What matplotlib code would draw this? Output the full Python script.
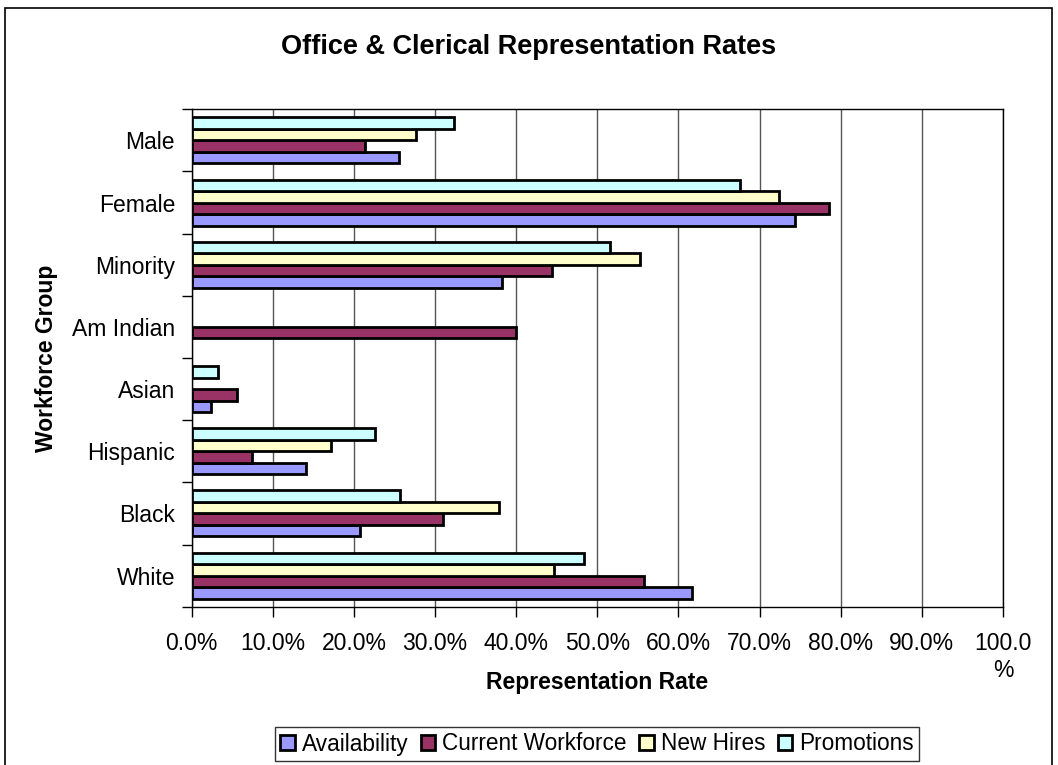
import matplotlib.pyplot as plt
import numpy as np
from matplotlib.patches import Rectangle
from matplotlib.ticker import FixedLocator

plt.rcParams['font.family'] = ['Liberation Sans', 'DejaVu Sans']

groups = ["White", "Black", "Hispanic", "Asian", "Am Indian", "Minority", "Female", "Male"]
availability = [61.7, 20.7, 14.1, 2.4, 0.0, 38.3, 74.4, 25.5]
current_wf = [55.7, 31.0, 7.4, 5.6, 40.0, 44.4, 78.5, 21.4]
new_hires = [44.7, 37.9, 17.2, 0.0, 0.0, 55.2, 72.4, 27.6]
promotions = [48.4, 25.7, 22.6, 3.2, 0.0, 51.6, 67.6, 32.3]

series = ["Availability", "Current Workforce", "New Hires", "Promotions"]
colors = ["#9999FF", "#993366", "#FFFFCC", "#CCFFFF"]
xticks = np.arange(0, 101, 10)
xlabels = ["0.0%", "10.0%", "20.0%", "30.0%", "40.0%", "50.0%", "60.0%",
           "70.0%", "80.0%", "90.0%", "100.0\n%"]

W, H = 1058, 765
fig = plt.figure(figsize=(W / 100, H / 100), dpi=100)
# outer chart border (bottom edge runs off the image)
fig.patches.append(Rectangle((5 / W, -0.01), 1047 / W, 1 - 8 / H + 0.01,
                             transform=fig.transFigure, fill=False,
                             edgecolor="black", lw=1.2))
ax = fig.add_axes([191.7 / W, 1 - 606.7 / H, (1003 - 191.7) / W, (606.7 - 109.3) / H])

y = np.arange(len(groups))
h = 0.185
for i, (vals, name, c) in enumerate(zip([availability, current_wf, new_hires, promotions], series, colors)):
    vals = np.array(vals)
    mask = vals > 0
    ax.barh(y[mask] + (i - 1.5) * h, vals[mask], height=h, color=c,
            edgecolor="black", linewidth=2.0, label=name, zorder=3)

ax.set_xlim(0, 100)
ax.set_ylim(-0.5, len(groups) - 0.5)
ax.set_xticks(xticks)
ax.set_xticklabels(xlabels, fontsize=16.5, va="top", linespacing=1.2)
ax.set_yticks(y)
ax.set_yticklabels(groups, fontsize=16.5)
ax.yaxis.set_minor_locator(FixedLocator(np.arange(-0.5, len(groups), 1)))
ax.tick_params(axis="y", which="major", length=0, pad=12)
ax.tick_params(axis="y", which="minor", length=7, width=1, direction="out")
ax.tick_params(axis="x", length=7, width=1, direction="out", pad=11.5)
ax.grid(axis="x", color="#555555", lw=1, zorder=0)
for s in ax.spines.values():
    s.set_color("black")
    s.set_linewidth(1)

fig.text(47 / W, 1 - 358 / H, "Workforce Group", rotation=90, ha="center", va="center",
         fontsize=16.5, fontweight="bold")
fig.text(597 / W, 1 - 683 / H, "Representation Rate", ha="center", va="center",
         fontsize=16.5, fontweight="bold")
fig.text(529 / W, 1 - 47 / H, "Office & Clerical Representation Rates",
         ha="center", va="center", fontsize=19.5, fontweight="bold")

leg = fig.legend(loc="center", bbox_to_anchor=(597 / W, 1 - 744 / H), ncol=4,
                 fontsize=16.3, frameon=True, fancybox=False, edgecolor="black",
                 handlelength=0.65, handleheight=0.65, handletextpad=0.3,
                 columnspacing=0.55, borderpad=0.25, borderaxespad=0)
leg.get_frame().set_linewidth(1)
for p in leg.get_patches():
    p.set_linewidth(2.0)

fig.savefig("out.png", dpi=100)
